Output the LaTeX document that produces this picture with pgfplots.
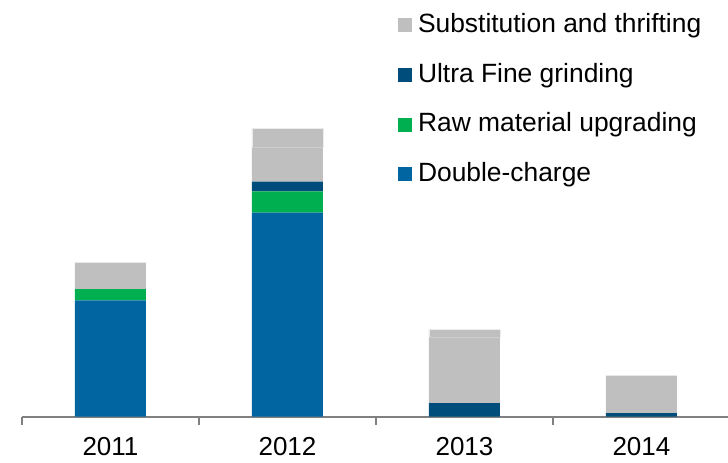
\documentclass[border=0pt]{standalone}
\usepackage{fontspec}
\setmainfont{Liberation Sans}
\usepackage{pgfplots}
\pgfplotsset{compat=1.18}
\definecolor{cBlue}{RGB}{0,101,161}
\definecolor{cGreen}{RGB}{0,176,80}
\definecolor{cDark}{RGB}{0,76,122}
\definecolor{cGray}{RGB}{191,191,191}
\definecolor{cAxis}{RGB}{128,128,128}
\begin{document}
\begin{tikzpicture}
\path[use as bounding box] (0,0) rectangle (364pt,231pt);
\begin{axis}[
  at={(11pt,22.75pt)}, anchor=south west,
  scale only axis, width=353pt, height=208.25pt,
  xmin=-0.5, xmax=3.489, ymin=0, ymax=416.5,
  ybar stacked, bar width=35.5pt,
  axis x line*=bottom, axis y line=none,
  x axis line style={cAxis, line width=1pt, -},
  xtick={0,1,2,3}, xticklabels={2011,2012,2013,2014},
  major tick length=0pt,
  extra x ticks={-0.5,0.5,1.5,2.5}, extra x tick labels={},
  extra x tick style={major tick length=4pt, tick align=outside, tick style={cAxis, line width=1pt}},
  xticklabel style={font=\fontsize{13}{15}\selectfont, anchor=north, inner sep=0pt, yshift=-10pt},
  clip=false,
  legend cell align=left,
  reverse legend,
  legend style={at={(0.5326,0.9695)}, anchor=north west, draw=none, fill=none,
    inner sep=0pt, outer sep=0pt, row sep=12.2pt,
    font=\fontsize{13.2}{15}\selectfont,
    nodes={inner sep=0pt, text height=10pt, text depth=2.6pt},
    /tikz/every odd column/.style={column sep=3pt}},
  legend image code/.code={\fill[#1] (0pt,-3.5pt) rectangle (7pt,3.5pt);},
]
\addplot[fill=cBlue, draw=none] coordinates {(0,116.2) (1,203.8) (2,0) (3,0)};
\addlegendentry{Double-charge}
\addplot[fill=cGreen, draw=none] coordinates {(0,11.3) (1,21.4) (2,0) (3,0)};
\addlegendentry{Raw material upgrading}
\addplot[fill=cDark, draw=none] coordinates {(0,0) (1,9.6) (2,13.5) (3,3.5)};
\addlegendentry{Ultra Fine grinding}
\addplot[fill=cGray, draw=none] coordinates {(0,26.3) (1,34.4) (2,65.7) (3,37.3)};
\addlegendentry{Substitution and thrifting}
\addplot[fill=cGray, draw=white!70!cGray, line width=0.4pt, forget plot] coordinates {(0,0) (1,18.6) (2,8.3) (3,0)};
\end{axis}
\end{tikzpicture}
\end{document}
